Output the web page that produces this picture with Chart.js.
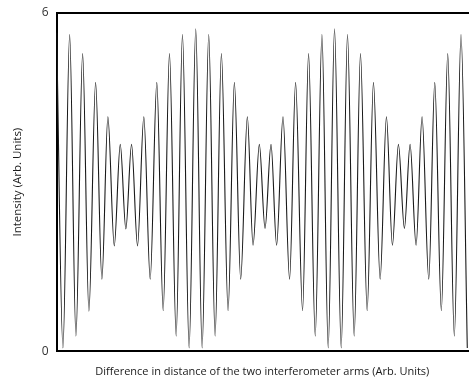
<!DOCTYPE html>
<html>
<head>
<meta charset="utf-8">
<script src="https://cdn.jsdelivr.net/npm/chart.js@4/dist/chart.umd.min.js"></script>
<style>
  html, body { margin: 0; padding: 0; background: #fff; }
  #wrap { width: 469px; height: 379px; }
</style>
</head>
<body>
<div id="wrap"><canvas id="chart" width="469" height="379"></canvas></div>
<script>
// positions of the fringe maxima / minima (arb. units)
const positions = [
  0, 6.3, 13, 19.3, 26, 32.3, 39, 45.3, 51.3, 57.7, 63.7, 69.3, 75, 81, 87.3, 93.7,
  100.3, 106.7, 113, 119.7, 126, 132.7, 139.3, 145.7, 152.3, 158.7, 165, 171.7,
  178, 184.3, 191, 196.7, 203, 208.7, 214.7, 220.3, 226.7, 233.3, 239.3, 246.3,
  252.3, 259, 265.7, 272, 278.3, 285, 291.3, 298, 304.3, 311, 317.3, 324, 330.3,
  336.3, 342.3, 348.3, 354, 360, 366, 372.7, 378.7, 385.3, 391.7, 398.3, 405, 411.3
];
// intensity at each of those extrema
const intensity = [
  5.65, 0.06, 5.62, 0.27, 5.28, 0.71, 4.77, 1.28, 4.16, 1.87, 3.67, 2.17, 3.67, 1.87, 4.16, 1.28,
  4.77, 0.72, 5.28, 0.27, 5.62, 0.06, 5.72, 0.06, 5.62, 0.27, 5.28, 0.72,
  4.77, 1.28, 4.16, 1.88, 3.67, 2.18, 3.67, 1.88, 4.16, 1.28, 4.77, 0.72,
  5.28, 0.27, 5.62, 0.06, 5.72, 0.06, 5.62, 0.27, 5.28, 0.72, 4.77, 1.28, 4.16,
  1.88, 3.67, 2.18, 3.67, 1.88, 4.16, 1.28, 4.77, 0.72, 5.28, 0.27, 5.62, 0.06
];
const yTicks = [0, 6];
const xRange = [0, 412];

const points = positions.map((x, i) => ({ x, y: intensity[i] }));
const font = { family: "'Open Sans', 'DejaVu Sans', sans-serif" };

new Chart(document.getElementById('chart'), {
  type: 'line',
  data: {
    datasets: [{
      data: points,
      borderColor: '#1a1a1a',
      borderWidth: 1.1,
      pointRadius: 0,
      fill: false,
      cubicInterpolationMode: 'monotone'
    }]
  },
  options: {
    responsive: false,
    animation: false,
    events: [],
    layout: { padding: { left: 11, right: 1, top: 5, bottom: 1 } },
    plugins: { legend: { display: false }, tooltip: { enabled: false } },
    scales: {
      x: {
        type: 'linear',
        min: xRange[0], max: xRange[1],
        grid: { display: false },
        border: { display: true, color: '#000', width: 2 },
        ticks: { display: false },
        title: {
          display: true,
          text: 'Difference in distance of the two interferometer arms (Arb. Units)',
          color: '#1a1a1a',
          font: { ...font, size: 11 },
          padding: { top: 5.5, bottom: 0 }
        }
      },
      x2: {
        type: 'linear',
        position: 'top',
        min: xRange[0], max: xRange[1],
        grid: { display: false },
        border: { display: true, color: '#000', width: 2 },
        ticks: { display: false }
      },
      y: {
        min: yTicks[0], max: yTicks[1],
        afterBuildTicks: axis => { axis.ticks = yTicks.map(v => ({ value: v })); },
        grid: { display: false },
        border: { display: true, color: '#000', width: 2 },
        ticks: { color: '#333', font: { ...font, size: 12 }, padding: 0 },
        title: {
          display: true,
          text: 'Intensity (Arb. Units)',
          color: '#1a1a1a',
          font: { ...font, size: 11.5 },
          padding: { top: 0, bottom: 17 }
        }
      }
    }
  }
});
</script>
</body>
</html>
